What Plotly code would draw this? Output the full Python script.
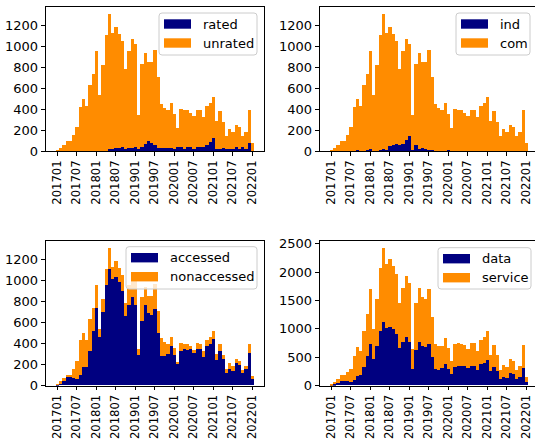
import plotly.graph_objects as go

# ---------------- data ----------------
months = [f"{y}{m:02d}" for y in range(2017, 2023) for m in range(1, 13)][:61]  # 201701 .. 202201
tick_labels = months[::6]

total = [10, 38, 67, 100, 100, 158, 235, 428, 500, 434,
         634, 735, 960, 540, 825, 1112, 1311, 1130, 1187, 1115,
         1055, 786, 955, 1072, 1025, 350, 838, 940, 854, 854,
         968, 710, 453, 412, 396, 462, 358, 222, 405, 396,
         396, 371, 340, 400, 396, 330, 434, 462, 520, 295,
         390, 285, 152, 212, 183, 253, 230, 148, 187, 398,
         85]

rated = [0, 0, 0, 0, 0, 0, 0, 0, 0, 0,
         0, 0, 0, 0, 0, 0, 22, 22, 38, 38,
         47, 28, 38, 38, 47, 28, 47, 70, 98, 80,
         60, 38, 38, 38, 38, 38, 28, 47, 47, 28,
         47, 47, 28, 47, 47, 47, 60, 88, 130, 28,
         28, 38, 28, 28, 28, 47, 28, 47, 28, 80,
         10]

ind = [0, 0, 0, 0, 0, 0, 0, 0, 16, 0,
       0, 19, 28, 0, 0, 13, 28, 19, 50, 60,
       76, 60, 76, 111, 152, 19, 63, 25, 38, 28,
       19, 19, 0, 0, 0, 0, 19, 0, 0, 0,
       0, 0, 0, 0, 0, 0, 0, 0, 0, 0,
       0, 0, 0, 0, 0, 0, 0, 0, 0, 0,
       0]

accessed = [5, 20, 51, 86, 80, 73, 57, 95, 173, 180,
            330, 518, 735, 460, 700, 955, 1110, 1010, 1030, 990,
            900, 658, 765, 847, 770, 290, 617, 770, 693, 668,
            732, 500, 283, 277, 300, 372, 293, 204, 324, 347,
            334, 347, 308, 347, 347, 270, 372, 398, 442, 245,
            324, 251, 118, 153, 134, 213, 197, 118, 153, 308,
            65]

unrated = [t - r for t, r in zip(total, rated)]
com = [t - v for t, v in zip(total, ind)]
nonaccessed = [t - a for t, a in zip(total, accessed)]
data = accessed
service = total

# ---------------- style / layout ----------------
W, H = 535, 440
NAVY = "#000080"
ORANGE = "#ff8c00"
FONT = dict(family="DejaVu Sans", size=13, color="black")
XFONT = dict(family="DejaVu Sans", size=11.6, color="black")


def px(x):
    return x / W


def py(y):
    return 1 - y / H


XDOM_L = [px(45.7), px(263.7)]
XDOM_R = [px(319.7), 1.0]
YDOM_T = [py(151.3), py(6.7)]
YDOM_B = [py(385.7), py(241.3)]
XR_L = [-3.55, 63.55]
XR_R = [-3.55, -3.55 + (W - 319.7) / 3.249]

panels = [
    ("", XDOM_L, YDOM_T, XR_L, [0, 1376], 200, ("rated", rated), ("unrated", unrated),
     (159, 13, 257, 55)),
    ("2", XDOM_R, YDOM_T, XR_R, [0, 1376], 200, ("ind", ind), ("com", com),
     (456, 13, 530, 55)),
    ("3", XDOM_L, YDOM_B, XR_L, [0, 1376], 200, ("accessed", accessed), ("nonaccessed", nonaccessed),
     (126, 246.7, 257, 289)),
    ("4", XDOM_R, YDOM_B, XR_R, [0, 2541], 500, ("data", data), ("service", service),
     (438, 247.7, 531, 289)),
]

fig = go.Figure()
shapes = []
annotations = []


def rounded_path(x0, y0, x1, y1, r=3):
    pts = [
        f"M{px(x0 + r)},{py(y0)}",
        f"L{px(x1 - r)},{py(y0)}",
        f"Q{px(x1)},{py(y0)} {px(x1)},{py(y0 + r)}",
        f"L{px(x1)},{py(y1 - r)}",
        f"Q{px(x1)},{py(y1)} {px(x1 - r)},{py(y1)}",
        f"L{px(x0 + r)},{py(y1)}",
        f"Q{px(x0)},{py(y1)} {px(x0)},{py(y1 - r)}",
        f"L{px(x0)},{py(y0 + r)}",
        f"Q{px(x0)},{py(y0)} {px(x0 + r)},{py(y0)}",
        "Z",
    ]
    return " ".join(pts)


for suf, xdom, ydom, xr, yr, ystep, bot, top, box in panels:
    xa, ya = "x" + suf, "y" + suf
    for (name, vals), col in ((bot, NAVY), (top, ORANGE)):
        fig.add_trace(go.Bar(x=months, y=vals, name=name, xaxis=xa, yaxis=ya,
                             marker=dict(color=col, line=dict(width=0)),
                             showlegend=False))
    axis_common = dict(showgrid=False, zeroline=False, showline=True, linecolor="black",
                       linewidth=1, mirror=True, ticks="outside", tickwidth=1,
                       tickcolor="black", automargin=False)
    fig.update_layout(**{
        "xaxis" + suf: dict(domain=xdom, anchor=ya, type="category", categoryorder="array",
                            categoryarray=months, range=xr, tickmode="array",
                            tickvals=tick_labels, ticktext=tick_labels, tickangle=-90,
                            ticklen=3.5, tickfont=XFONT, **axis_common),
        "yaxis" + suf: dict(domain=ydom, anchor=xa, range=yr, tickmode="linear", tick0=0,
                            dtick=ystep, ticklen=4, tickfont=FONT, **axis_common),
    })
    bx0, by0, bx1, by1 = box
    shapes.append(dict(type="path", xref="paper", yref="paper",
                       path=rounded_path(bx0, by0, bx1, by1),
                       fillcolor="rgba(255,255,255,0.8)", line=dict(color="#cccccc", width=1)))
    hx0 = bx0 + 5
    hx1 = hx0 + 27
    for k, ((name, _), col) in enumerate(((bot, NAVY), (top, ORANGE))):
        cy = by0 + 11 + k * 19
        shapes.append(dict(type="rect", xref="paper", yref="paper",
                           x0=px(hx0), x1=px(hx1), y0=py(cy - 4.7), y1=py(cy + 4.7),
                           fillcolor=col, line=dict(width=0)))
        annotations.append(dict(x=px(hx1 + 9.5), y=py(cy), xref="paper", yref="paper",
                                text=name, showarrow=False, xanchor="left", yanchor="middle",
                                font=FONT))

fig.update_layout(width=W, height=H, margin=dict(l=0, r=0, t=0, b=0, autoexpand=False),
                  paper_bgcolor="white", plot_bgcolor="white",
                  barmode="stack", bargap=0, showlegend=False,
                  shapes=shapes, annotations=annotations, font=FONT)

fig.write_html("out.html", config={"displayModeBar": False},
               post_script="document.body.style.margin='0';document.body.style.overflow='hidden';")
